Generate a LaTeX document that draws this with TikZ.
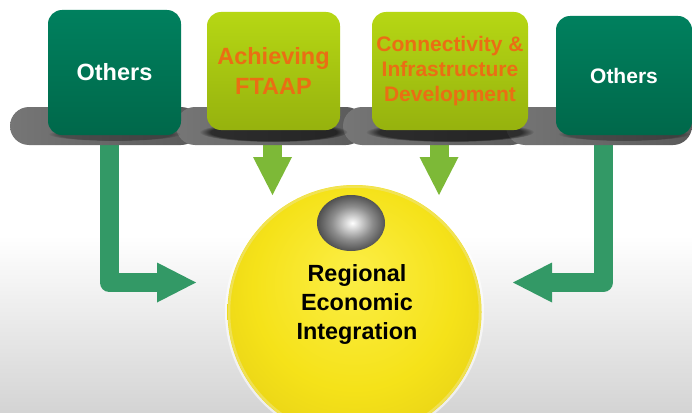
\documentclass[tikz,border=0pt]{standalone}
\usepackage{fontspec}
\setmainfont{Liberation Sans}
\usetikzlibrary{arrows.meta,positioning,fadings}
\definecolor{deepA}{RGB}{0,128,94}
\definecolor{deepB}{RGB}{0,104,74}
\definecolor{limeA}{RGB}{182,215,20}
\definecolor{limeB}{RGB}{150,178,14}
\definecolor{rust}{RGB}{234,110,20}
\definecolor{seagreen}{RGB}{51,153,102}
\definecolor{leaf}{RGB}{125,185,55}
\definecolor{barA}{RGB}{118,118,118}
\definecolor{barB}{RGB}{90,90,90}
\definecolor{floor}{RGB}{212,212,212}
\definecolor{sunA}{RGB}{252,238,70}
\definecolor{sunB}{RGB}{245,226,25}
\definecolor{sunC}{RGB}{222,198,20}
\definecolor{sunD}{RGB}{240,228,110}
\pgfdeclareradialshading{sunball}{\pgfpoint{0bp}{8bp}}{color(0bp)=(sunA); color(20bp)=(sunB); color(40bp)=(sunC); color(50bp)=(sunC)}
\pgfdeclareradialshading{knob}{\pgfpoint{1bp}{0bp}}{color(0bp)=(white); color(5bp)=(white!85!black); color(15bp)=(black!45); color(25bp)=(black!68); color(33bp)=(black!76); color(50bp)=(black!76)}
\tikzset{
  deepbox/.style={rounded corners=14pt, top color=deepA, bottom color=deepB,
    text=white, align=center},
  limebox/.style={rounded corners=14pt, top color=limeA, bottom color=limeB,
    text=rust, align=center},
  elbow/.style={draw=seagreen, line width=19pt, line join=round,
    -{Triangle[width=40pt,length=39pt,line width=0pt]}},
  drop/.style={draw=leaf, line width=19pt,
    -{Triangle[width=39pt,length=38pt,line width=0pt]}},
  belt/.style={left color=barA, right color=barB, rounded corners=19pt},
  lift/.style={black, path fading=circle with fuzzy edge 15 percent}
}
\begin{document}
\begin{tikzpicture}[x=1pt,y=-1pt]
\useasboundingbox (0,0) rectangle (692,412);
\fill[white] (0,0) rectangle (692,412);
\shade[top color=white, bottom color=floor] (0,235) rectangle (692,412);

\coordinate (lsrc) at (109,130);
\coordinate (ltip) at (196,282.5);
\coordinate (rsrc) at (603.5,130);
\coordinate (rtip) at (513,282.5);
\coordinate (dsrc1) at (272.5,130);
\coordinate (dtip1) at (272.5,195);
\coordinate (dsrc2) at (439,130);
\coordinate (dtip2) at (439,195);
\draw[elbow] (lsrc) |- (ltip);
\draw[elbow] (rsrc) |- (rtip);
\draw[drop] (dsrc1) -- (dtip1);
\draw[drop] (dsrc2) -- (dtip2);

\foreach \xa/\xb in {10/200, 176/365, 343/530, 506/692}
  \shade[belt] (\xa,107) rectangle (\xb,145);
\begin{scope}
\clip (0,107) rectangle (692,144);
\fill[lift, opacity=.3] (114.5,134) ellipse (66 and 7);
\fill[lift, opacity=.6] (273.5,132) ellipse (74 and 10);
\fill[lift, opacity=.6] (450,132) ellipse (84 and 10);
\fill[lift, opacity=.3] (624,134) ellipse (66 and 7);
\end{scope}

\node[deepbox, minimum width=133pt, minimum height=125pt,
      font=\bfseries\fontsize{23.5}{28}\selectfont] (oth1) at (114.5,72.5) {Others};
\node[limebox, minimum width=133pt, minimum height=118pt,
      font=\bfseries\fontsize{23.5}{30}\selectfont] (ftaap) at (273.5,71) {Achieving\\FTAAP};
\node[limebox, minimum width=156pt, minimum height=118pt,
      font=\bfseries\fontsize{21}{25}\selectfont] (conn) at (450,71)
      {Connectivity \&\\Infrastructure\\Development};
\node[deepbox, minimum width=136pt, minimum height=119pt,
      font=\bfseries\fontsize{21}{25}\selectfont] (oth2) at (624,75.5) {Others};

\fill[white, opacity=.6] (354.5,312) circle (129.5);
\node[circle, minimum size=254pt, shading=sunball] (rei) at (354.5,312) {};
\draw[sunD, line width=2.5pt, opacity=.7] (rei.center) circle (125.5);
\shade[shading=knob] (351,223) ellipse (34 and 28);
\node[align=center, font=\bfseries\fontsize{23.4}{29}\selectfont] (reilabel)
      at (357,304) {Regional\\Economic\\Integration};
\end{tikzpicture}
\end{document}
